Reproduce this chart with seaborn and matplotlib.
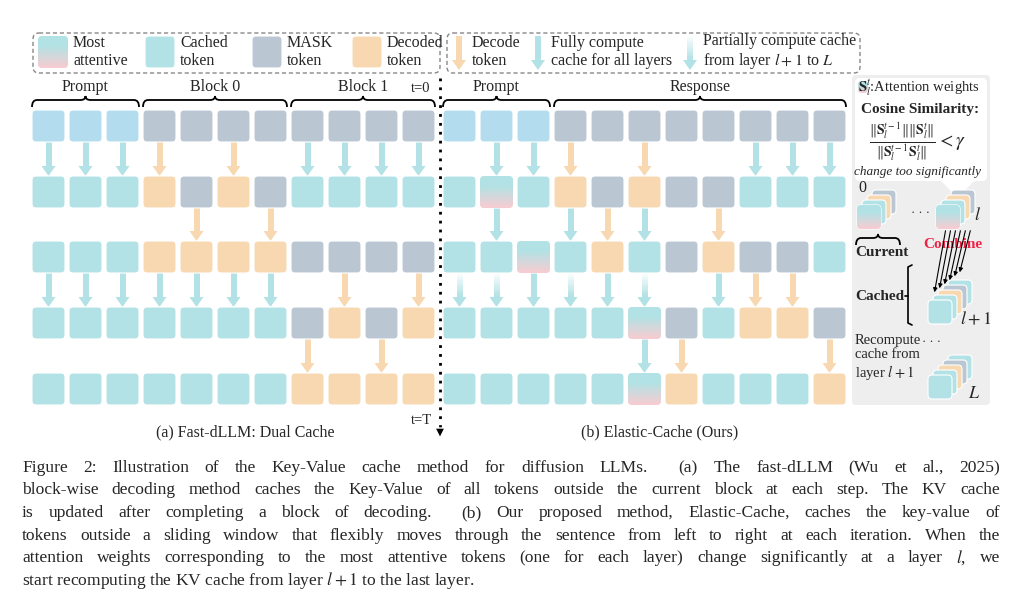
import numpy as np
import matplotlib
matplotlib.use("Agg")
import matplotlib.pyplot as plt
import seaborn as sns
from matplotlib.patches import FancyBboxPatch, Polygon, PathPatch
from matplotlib.path import Path

# ---------------- data ----------------
left_states = ["PPPMMMMMMMM",
               "CCCDMDMCCCC",
               "CCCDDDDMMMM",
               "CCCCCCCMDMD",
               "CCCCCCCDDDD"]
left_arrows = ["ccco-o-cccc",
               "----o-o----",
               "ccccccc-o-o",
               "-------o-o-"]
right_states = ["PPPMMMMMMMM",
                "CGCDMDMMCCC",
                "CCGCDCMDMMC",
                "CCCCCGMCDDM",
                "CCCCCGDCCCD"]
right_arrows = ["-cco-o--ccc",
                "-c-coc-o---",
                "ffcfcf-coo-",
                "-----co---o"]
left_groups = [("Prompt", 0, 2), ("Block 0", 3, 6), ("Block 1", 7, 10)]
right_groups = [("Prompt", 0, 2), ("Response", 3, 10)]
legend_left = [("G", "Most\nattentive"), ("C", "Cached\ntoken"), ("M", "MASK\ntoken"), ("D", "Decoded\ntoken")]
legend_right = [("o", "Decode\ntoken"), ("c", "Fully compute\ncache for all layers"),
                ("f", "Partially compute cache\nfrom layer $l+1$ to $L$")]
caption = ["Figure 2: Illustration of the Key-Value cache method for diffusion LLMs.  (a) The fast-dLLM (Wu et al., 2025)",
           "block-wise decoding method caches the Key-Value of all tokens outside the current block at each step. The KV cache",
           "is updated after completing a block of decoding.  (b) Our proposed method, Elastic-Cache, caches the key-value of",
           "tokens outside a sliding window that flexibly moves through the sentence from left to right at each iteration. When the",
           "attention weights corresponding to the most attentive tokens (one for each layer) change significantly at a layer $l$, we",
           "start recomputing the KV cache from layer $l+1$ to the last layer."]

sns.set_theme(style="white")
plt.rcParams['font.family'] = ['Liberation Serif', 'DejaVu Serif']
plt.rcParams['mathtext.fontset'] = 'stix'

COL = {"P": "#b3dcee", "C": "#b2e2e5", "M": "#bac7d3", "D": "#f8d8b0", "G": "#b2e2e5"}
PINK = np.array([0.97, 0.80, 0.82])
CYAN = np.array(matplotlib.colors.to_rgb(COL["C"]))
ARC = {"c": COL["C"], "o": COL["D"], "f": COL["C"]}

fig = plt.figure(figsize=(10.21, 6.16), dpi=100)
ax = fig.add_axes([0, 0, 1, 1])
ax.set_xlim(0, 1021); ax.set_ylim(616, 0); ax.axis("off")

W, H = 33, 32
def cell(x, y, kind, w=W, h=H, z=2):
    p = FancyBboxPatch((x, y), w, h, boxstyle="round,pad=0,rounding_size=4",
                       fc=COL[kind], ec="white", lw=0.8, zorder=z)
    ax.add_patch(p)
    if kind == "G":
        t = np.linspace(0, 1, 40)
        f = np.clip((t - 0.3) / 0.7, 0, 1)[:, None]
        img = (CYAN[None, :] * (1 - f) + PINK[None, :] * f)[:, None, :]
        im = ax.imshow(img, extent=(x, x + w, y + h, y), origin="upper",
                       aspect="auto", interpolation="bilinear", zorder=z + 0.1)
        im.set_clip_path(p)

def arrow(x, y0, y1, kind, z=1):
    c = ARC[kind]
    sw, hw, hl = 3, 7, 10
    if kind == "f":
        n = 20
        ys = np.linspace(y0, y1 - hl, n + 1)
        for i in range(n):
            ax.add_patch(Polygon([(x - sw, ys[i]), (x + sw, ys[i]), (x + sw, ys[i + 1]), (x - sw, ys[i + 1])],
                                 closed=True, fc=c, ec="none", alpha=(i + 1) / n, zorder=z))
    else:
        ax.add_patch(Polygon([(x - sw, y0), (x + sw, y0), (x + sw, y1 - hl), (x - sw, y1 - hl)],
                             closed=True, fc=c, ec="none", zorder=z))
    ax.add_patch(Polygon([(x - hw, y1 - hl), (x + hw, y1 - hl), (x, y1)], closed=True, fc=c, ec="none", zorder=z))

def brace(x1, x2, y):
    xm = (x1 + x2) / 2
    verts = [(x1, y + 7), (x1, y), (x1 + 5, y), (xm - 5, y), (xm, y), (xm, y - 4),
             (xm, y), (xm + 5, y), (x2 - 5, y), (x2, y), (x2, y + 7)]
    codes = [Path.MOVETO, Path.CURVE3, Path.CURVE3, Path.LINETO, Path.CURVE3, Path.CURVE3,
             Path.CURVE3, Path.CURVE3, Path.LINETO, Path.CURVE3, Path.CURVE3]
    ax.add_patch(PathPatch(Path(verts, codes), fc="none", ec="black", lw=1.3, zorder=3))

PITCH = 37
ROWY = [110, 176, 241, 307, 373]
FS = 11.5
def panel(x0, states, arrows, groups):
    for r, row in enumerate(states):
        for c, k in enumerate(row):
            cell(x0 + c * PITCH, ROWY[r], k)
    for r, row in enumerate(arrows):
        for c, k in enumerate(row):
            if k != "-":
                arrow(x0 + c * PITCH + W / 2, ROWY[r] + H, ROWY[r + 1], k)
    for name, a, b in groups:
        xa, xb = x0 + a * PITCH, x0 + b * PITCH + W
        brace(xa, xb, 100)
        ax.text((xa + xb) / 2, 87, name, ha="center", va="center", fontsize=FS)

panel(32, left_states, left_arrows, left_groups)
panel(443, right_states, right_arrows, right_groups)

ax.text(421, 88, "t=0", ha="center", va="center", fontsize=10.5)
ax.text(421, 420, "t=T", ha="center", va="center", fontsize=10.5)
ax.plot([440, 440], [78, 430], color="black", lw=2, ls=(0, (1, 2.2)), zorder=3)
ax.add_patch(Polygon([(435, 428), (445, 428), (440, 438)], closed=True, fc="black", zorder=3))
ax.text(245, 432, "(a) Fast-dLLM: Dual Cache", ha="center", va="center", fontsize=FS)
ax.text(660, 432, "(b) Elastic-Cache (Ours)", ha="center", va="center", fontsize=FS)

# legend
for xa, xb in [(33, 440), (447, 860)]:
    ax.add_patch(FancyBboxPatch((xa, 33), xb - xa, 40, boxstyle="round,pad=0,rounding_size=6",
                                fc="none", ec="#888888", lw=1, ls=(0, (3, 2)), zorder=1))
for i, (k, txt) in enumerate(legend_left):
    x = [38, 145, 252, 352][i]
    cell(x, 36, k, w=30, h=32)
    ax.text(x + 35, 52, txt, ha="left", va="center", fontsize=FS, linespacing=1.1)
for i, (k, txt) in enumerate(legend_right):
    x = [459, 538, 690][i]
    arrow(x, 36, 70, k)
    ax.text(x + 13, 52, txt, ha="left", va="center", fontsize=FS, linespacing=1.1)

# side panel
ax.add_patch(FancyBboxPatch((852, 75), 138, 330, boxstyle="round,pad=0,rounding_size=4",
                            fc="#eeeeee", ec="none", zorder=0))
ax.add_patch(FancyBboxPatch((855, 78), 132, 103, boxstyle="round,pad=0,rounding_size=5",
                            fc="white", ec="none", zorder=0.5))
ax.add_patch(Polygon([(940, 180), (975, 180), (958, 198)], closed=True, fc="white", ec="none", zorder=0.5))
cell(858, 81, "G", w=10, h=12)
ax.text(858, 88, r"$\mathbf{S}_l^t$:Attention weights", ha="left", va="center", fontsize=10.5)
ax.text(920, 110, "Cosine Similarity:", ha="center", va="center", fontsize=11, fontweight="bold")
ax.text(917, 142, r"$\frac{\|\mathbf{S}_l^{t-1}\|\|\mathbf{S}_l^t\|}{\|\mathbf{S}_l^{t-1}\mathbf{S}_l^t\|} < \gamma$",
        ha="center", va="center", fontsize=14)
ax.text(917, 172, "change too significantly", ha="center", va="center", fontsize=9.5, style="italic")

def stack(x, y, kinds, s=24, d=5):
    n = len(kinds)
    for i, k in enumerate(kinds):
        off = (n - 1 - i) * d
        cell(x + off, y - off, k, w=s, h=s, z=2 + i * 0.2)
stack(857, 205, ["M", "D", "C", "G"])
stack(936, 205, ["M", "D", "C", "G"])
stack(928, 300, ["C", "M", "D", "C", "C"])
stack(928, 375, ["C", "M", "D", "C", "C"])
ax.text(858, 188, "0", fontsize=11.5, va="center")
ax.text(911, 213, "· · ·", fontsize=9, va="center")
ax.text(922, 342, "· · ·", fontsize=9, va="center")
ax.text(974, 215, "$l$", fontsize=13, va="center")
brace(856, 900, 238)
ax.text(855, 252, "Current", fontsize=11, fontweight="bold", va="center")
ax.text(953, 244, "Combine", fontsize=11, fontweight="bold", color="#ee2244", va="center", ha="center")
for i in range(6):
    xs = 946 + i * 5
    ax.annotate("", xy=(xs - 12, 295 - i * 4), xytext=(xs, 228),
                arrowprops=dict(arrowstyle="-|>", lw=0.8, color="black", mutation_scale=6), zorder=5)
ax.text(855, 297, "Cached", fontsize=11, fontweight="bold", va="center")
ax.plot([912, 908, 908, 912], [265, 267, 323, 325], color="black", lw=1.2)
ax.plot([905, 908], [296, 296], color="black", lw=1.2)
ax.text(960, 320, "$l+1$", fontsize=13, va="center")
ax.text(855, 358, "Recompute\ncache from\nlayer $l+1$", fontsize=10.5, va="center", linespacing=1.1)
ax.text(968, 394, "$L$", fontsize=13, va="center")

# caption, justified
fig.canvas.draw()
rend = fig.canvas.get_renderer()
CFS = 12.6
x_left, x_right = 22, 1000
for i, line in enumerate(caption):
    y = 468 + i * 22.5
    if i == len(caption) - 1:
        ax.text(x_left, y, line, fontsize=CFS, va="center")
        continue
    words = line.split(" ")
    ts = [ax.text(0, y, w, fontsize=CFS, va="center") for w in words]
    ws = [t.get_window_extent(renderer=rend).width for t in ts]
    gap = ((x_right - x_left) - sum(ws)) / (len(words) - 1)
    x = x_left
    for t, w in zip(ts, ws):
        t.set_x(x)
        x += w + gap

fig.savefig("out.png", dpi=100)
